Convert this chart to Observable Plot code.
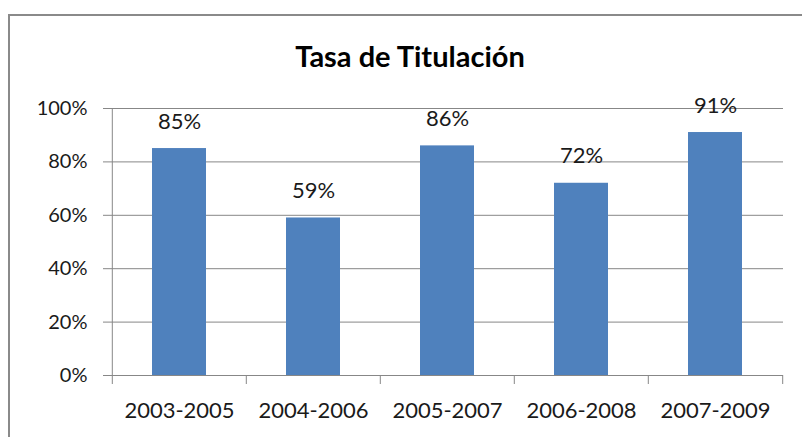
<!DOCTYPE html>
<html>
<head>
<meta charset="utf-8">
<script src="https://cdn.jsdelivr.net/npm/d3@7"></script>
<script src="https://cdn.jsdelivr.net/npm/@observablehq/plot@0.6"></script>
<style>
  html, body { margin: 0; padding: 0; background: #fff; }
  #wrap { position: relative; width: 802px; height: 437px; overflow: hidden; background: #fff; font-family: Lato, "Open Sans", sans-serif; }
  #frame { position: absolute; left: 8px; top: 14px; width: 900px; height: 600px; border: 2px solid #8a8a8a; box-sizing: border-box; }
  #title { position: absolute; left: 0; width: 820px; top: 41px; text-align: center; font-weight: bold; font-size: 29px; color: #000; line-height: 1; }
  #chart { position: absolute; left: 0; top: 0; }
</style>
</head>
<body>
<div id="wrap">
  <div id="frame"></div>
  <div id="chart"></div>
  <div id="title">Tasa de Titulación</div>
</div>
<script>
const categories = ["2003-2005", "2004-2006", "2005-2007", "2006-2008", "2007-2009"];
const values = [0.85, 0.59, 0.86, 0.72, 0.91];
const yTicks = [0, 0.2, 0.4, 0.6, 0.8, 1.0];

const data = categories.map((c, i) => ({cat: c, value: values[i]}));

const W = 802, H = 437;
const mL = 111, mR = 19, mT = 108, mB = 62;
const step = (W - mL - mR) / categories.length;
const pxPerUnit = (H - mT - mB);
const tickLen = 9 / pxPerUnit;
const gray = "#878787";
const edges = categories.map((c, i) => ({cat: c, dx: -step / 2})).concat([{cat: categories[categories.length - 1], dx: step / 2}]);

const chart = Plot.plot({
  width: W,
  height: H,
  marginLeft: mL,
  marginRight: mR,
  marginTop: mT,
  marginBottom: mB,
  style: {fontFamily: "Lato, 'Open Sans', sans-serif", background: "transparent", color: "#000"},
  x: {domain: categories, paddingInner: 0.6, paddingOuter: 0.3},
  y: {domain: [0, 1]},
  marks: [
    Plot.gridY(yTicks, {stroke: gray, strokeOpacity: 1}),
    Plot.axisY(yTicks, {tickFormat: d3.format(".0%"), tickSize: 8, tickPadding: 16, stroke: gray, fontSize: 20, fill: "#1a1a1a", label: null}),
    Plot.axisX({tickSize: 0, tickPadding: 27, fontSize: 22, fill: "#1a1a1a", label: null}),
    Plot.barY(data, {x: "cat", y: "value", fill: "#4f81bd"}),
    Plot.ruleX([categories[0]], {x: d => d, dx: -step / 2, y1: 0, y2: 1, stroke: gray}),
    ...edges.map(e => Plot.ruleX([e.cat], {x: d => d, dx: e.dx, y1: 0, y2: -tickLen, stroke: gray})),
    Plot.text(data, {x: "cat", y: "value", text: d => d3.format(".0%")(d.value), lineAnchor: "bottom", dy: -20, fontSize: 22, fill: "#1a1a1a"})
  ]
});
document.getElementById("chart").appendChild(chart);
</script>
</body>
</html>
